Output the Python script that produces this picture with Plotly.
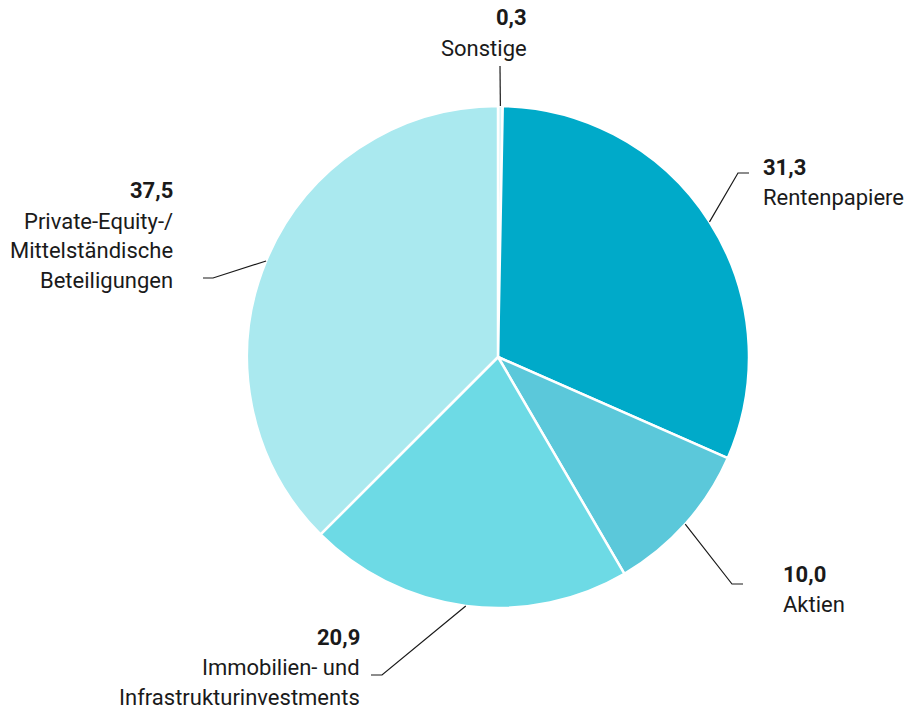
import math
import plotly.graph_objects as go

# Portfolio structure (percent)
categories = ["Sonstige", "Rentenpapiere", "Aktien",
              "Immobilien- und Infrastrukturinvestments",
              "Private-Equity-/ Mittelständische Beteiligungen"]
values = [0.3, 31.3, 10.0, 20.9, 37.5]
value_labels = ["0,3", "31,3", "10,0", "20,9", "37,5"]
label_lines = [
    ["Sonstige"],
    ["Rentenpapiere"],
    ["Aktien"],
    ["Immobilien- und", "Infrastrukturinvestments"],
    ["Private-Equity-/", "Mittelständische", "Beteiligungen"],
]
colors = ["#d8f3f6", "#00aac9", "#5bc8da", "#6ddae5", "#aae9ef"]

W, H = 910, 710
CX, CY, R = 498, 357, 251

# Label layout: elbow point of leader line, end of horizontal stub,
# text anchor x, text side, y of first text line
label_layout = [
    dict(elbow=(500, 66), stub=(500, 66), tx=529, side="right", ty=18),
    dict(elbow=(738, 173), stub=(749, 173), tx=761, side="left", ty=167),
    dict(elbow=(732, 584), stub=(743, 584), tx=781, side="left", ty=574),
    dict(elbow=(382, 675), stub=(371, 675), tx=362, side="right", ty=637),
    dict(elbow=(213, 278), stub=(203, 278), tx=175, side="right", ty=191),
]
LINE_GAP = 30


def px(x):
    return x / W


def py(y):
    return 1 - y / H


fig = go.Figure(go.Pie(
    labels=categories,
    values=values,
    sort=False,
    direction="clockwise",
    rotation=0,
    textinfo="none",
    hoverinfo="label+value",
    marker=dict(colors=colors, line=dict(color="white", width=2.5)),
    domain=dict(x=[px(CX - R), px(CX + R)], y=[py(CY + R), py(CY - R)]),
    showlegend=False,
))

total = sum(values)
shapes = []
annotations = []
cum = 0.0
for i, v in enumerate(values):
    mid = (cum + v / 2) / total * 2 * math.pi
    cum += v
    sx = CX + R * math.sin(mid)
    sy = CY - R * math.cos(mid)
    lay = label_layout[i]
    ex, ey = lay["elbow"]
    hx, hy = lay["stub"]
    path = f"M {px(sx)},{py(sy)} L {px(ex)},{py(ey)} L {px(hx)},{py(hy)}"
    shapes.append(dict(type="path", path=path, xref="paper", yref="paper",
                       line=dict(color="#1a1a1a", width=1.2)))
    anchor = "left" if lay["side"] == "left" else "right"
    texts = [f"<b>{value_labels[i]}</b>"] + label_lines[i]
    for j, t in enumerate(texts):
        annotations.append(dict(
            x=px(lay["tx"]), y=py(lay["ty"] + j * LINE_GAP),
            xref="paper", yref="paper", text=t, showarrow=False,
            xanchor=anchor, yanchor="middle", align=anchor,
            font=dict(family="Roboto", size=22, color="#1a1a1a"),
        ))

fig.update_layout(
    width=W, height=H,
    margin=dict(l=0, r=0, t=0, b=0),
    paper_bgcolor="white", plot_bgcolor="white",
    shapes=shapes, annotations=annotations,
)

fig.write_html("out.html")
